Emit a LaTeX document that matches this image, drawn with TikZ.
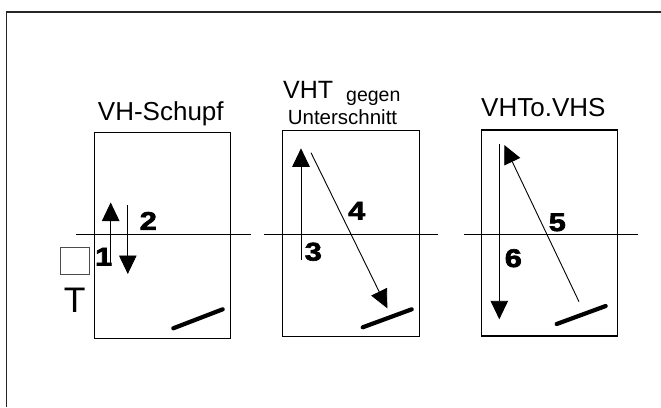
\documentclass[tikz,border=0pt]{standalone}
\usepackage{fontspec}
\setmainfont{Liberation Sans}
\newfontfamily\heavydigits{Liberation Sans Bold}[FakeBold=2.5]
\usetikzlibrary{arrows.meta}
\newcommand{\widedigit}[1]{\scalebox{1.2}[1]{\heavydigits #1}}
\begin{document}
\begin{tikzpicture}[x=1pt,y=-1pt,
  frame/.style={line width=1.6pt, black!85},
  panel/.style={draw, line width=1.1pt},
  axis/.style={line width=0.9pt},
  move/.style={line width=0.9pt, -{Triangle[length=18.5pt,width=17.5pt]}},
  bat/.style={line width=4.2pt, line cap=round},
  title/.style={inner sep=0pt, anchor=base, font=\fontsize{26}{30}\selectfont},
  num/.style={inner sep=0pt, anchor=base, font=\fontsize{25.5}{30}\selectfont}
]
\useasboundingbox (0,0) rectangle (661,407);

% outer frame (open to the right and bottom)
\draw[frame] (6.5,407) -- (6.5,11.7) -- (661,11.7);

% ---------- panel 1: VH-Schupf ----------
\draw[panel] (94.3,132.3) rectangle (230.7,338.3);
\draw[axis] (76,234) -- (250.7,234);
\node[title] (t1) at (160.8,120.5) {VH-Schupf};
\coordinate (a1s) at (110.7,265.5);
\coordinate (a1e) at (110.7,202.5);
\coordinate (a2s) at (127.8,205);
\coordinate (a2e) at (127.8,274);
\draw[move] (a1s) -- (a1e);
\draw[move] (a2s) -- (a2e);
\node[num] (n1) at (103.7,265.5) {\widedigit{1}};
\node[num] (n2) at (148.3,229.8) {\widedigit{2}};
\coordinate (b1s) at (173.3,328.3);
\coordinate (b1e) at (222.7,309.3);
\draw[bat] (b1s) -- (b1e);
% table marker
\draw[line width=0.9pt, black!70] (60,247.3) rectangle (89.3,274.3);
\node[inner sep=0pt, anchor=base, font=\fontsize{35.5}{40}\selectfont] (tt) at (74.7,312) {T};

% ---------- panel 2: VHT gegen Unterschnitt ----------
\draw[panel] (282.7,130.7) rectangle (419.3,336.7);
\draw[axis] (264,234) -- (438.3,234);
\node[title, anchor=base west, font=\fontsize{25}{30}\selectfont] (t2) at (283,98.3) {VHT};
\node[title, anchor=base west, font=\fontsize{19.5}{24}\selectfont] (t2b) at (346,101) {gegen};
\node[title, font=\fontsize{20.5}{24}\selectfont] (t2c) at (342.5,124.3) {Unterschnitt};
\coordinate (a3s) at (301,260);
\coordinate (a3e) at (301,148.3);
\coordinate (a4s) at (311,152.7);
\coordinate (a4e) at (387.3,308.3);
\draw[move] (a3s) -- (a3e);
\draw[move] (a4s) -- (a4e);
\node[num] (n3) at (313.3,260.5) {\widedigit{3}};
\node[num] (n4) at (356.7,219.5) {\widedigit{4}};
\coordinate (b2s) at (362.7,327.3);
\coordinate (b2e) at (411.7,309.3);
\draw[bat] (b2s) -- (b2e);

% ---------- panel 3: VHTo.VHS ----------
\draw[panel] (481.7,130) rectangle (617.3,336);
\draw[axis] (464,234) -- (638.3,234);
\node[title] (t3) at (543.3,116) {VHTo.VHS};
\coordinate (a5s) at (579,301.7);
\coordinate (a5e) at (504.3,145);
\coordinate (a6s) at (499.3,144);
\coordinate (a6e) at (499.3,319.3);
\draw[move] (a5s) -- (a5e);
\draw[move] (a6s) -- (a6e);
\node[num] (n5) at (557.3,231) {\widedigit{5}};
\node[num] (n6) at (513.3,267) {\widedigit{6}};
\coordinate (b3s) at (556.7,324);
\coordinate (b3e) at (605.7,306);
\draw[bat] (b3s) -- (b3e);
\end{tikzpicture}
\end{document}
